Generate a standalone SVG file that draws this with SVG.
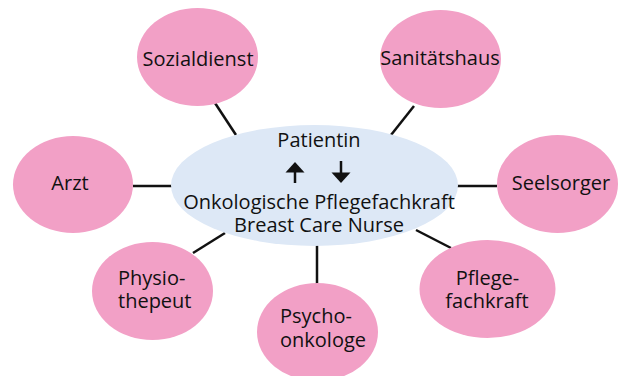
<svg xmlns="http://www.w3.org/2000/svg" width="623" height="376" viewBox="0 0 623 376">
<style>
.n{fill:#F2A0C6}
.c{fill:#DDE8F6}
text{font-family:"Open Sans","Noto Sans",sans-serif;font-size:20px;fill:#111}
.m{text-anchor:middle}
.l{stroke:#111;stroke-width:2.5;fill:none}
</style>
<defs>
<marker id="ah" viewBox="0 0 10 10" refX="10" refY="5" markerWidth="8" markerHeight="8" markerUnits="userSpaceOnUse" orient="auto"/>
</defs>
<rect width="623" height="376" fill="#fff"/>
<g id="connectors">
<line class="l" x1="215" y1="103" x2="236" y2="135"/>
<line class="l" x1="133" y1="186" x2="172" y2="186"/>
<line class="l" x1="414" y1="106" x2="391" y2="135"/>
<line class="l" x1="456" y1="186" x2="497" y2="186"/>
<line class="l" x1="225" y1="233" x2="193" y2="253"/>
<line class="l" x1="317" y1="245" x2="317" y2="284"/>
<line class="l" x1="416" y1="230" x2="451" y2="248"/>
</g>
<g id="center">
<ellipse class="c" cx="314.5" cy="185.5" rx="143.5" ry="60.5"/>
<text class="m" x="319" y="147">Patientin</text>
<line class="l" x1="295" y1="170" x2="295" y2="183"/>
<polygon points="295,162 285.5,172.5 304.5,172.5" fill="#111"/>
<line class="l" x1="341" y1="161" x2="341" y2="174"/>
<polygon points="341,183 331.5,172.5 350.5,172.5" fill="#111"/>
<text class="m" x="319" y="209">Onkologische Pflegefachkraft</text>
<text class="m" x="319" y="232">Breast Care Nurse</text>
</g>
<g id="sozialdienst">
<ellipse class="n" cx="197.5" cy="57" rx="60.5" ry="49"/>
<text class="m" x="198" y="66">Sozialdienst</text>
</g>
<g id="sanitaetshaus">
<ellipse class="n" cx="440.5" cy="59" rx="60.5" ry="49"/>
<text class="m" x="440" y="65">Sanitätshaus</text>
</g>
<g id="arzt">
<ellipse class="n" cx="73" cy="184.5" rx="60" ry="48.5"/>
<text class="m" x="70" y="190">Arzt</text>
</g>
<g id="seelsorger">
<ellipse class="n" cx="557.5" cy="184" rx="60.5" ry="49"/>
<text class="m" x="561" y="190">Seelsorger</text>
</g>
<g id="physiotherapeut">
<ellipse class="n" cx="152.5" cy="291" rx="60.5" ry="49"/>
<text x="118" y="285">Physio-</text>
<text x="118" y="308">thepeut</text>
</g>
<g id="psychoonkologe">
<ellipse class="n" cx="317.5" cy="332" rx="60.5" ry="49"/>
<text x="280" y="323">Psycho-</text>
<text x="280" y="347">onkologe</text>
</g>
<g id="pflegefachkraft">
<ellipse class="n" cx="487.5" cy="289" rx="68" ry="49"/>
<text class="m" x="487.5" y="285">Pflege-</text>
<text class="m" x="487" y="308">fachkraft</text>
</g>
</svg>
